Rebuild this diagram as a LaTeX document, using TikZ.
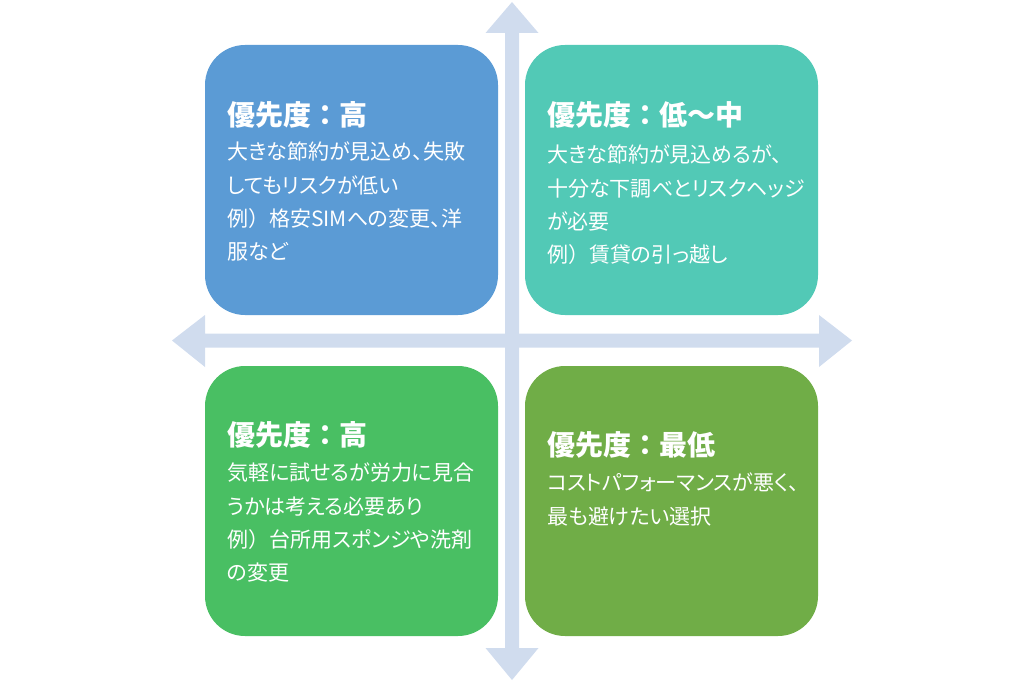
\documentclass[tikz,border=0pt]{standalone}
\usepackage{fontspec}
\setmainfont{Noto Sans CJK JP}[RawFeature=+palt]
\newfontfamily\fw{Noto Sans CJK JP}
\definecolor{axiscol}{RGB}{208,220,238}
\definecolor{cblue}{RGB}{91,155,213}
\definecolor{cteal}{RGB}{82,201,182}
\definecolor{cgreen}{RGB}{73,191,99}
\definecolor{colive}{RGB}{112,173,71}
\tikzset{
  quad/.style={rounded corners=40pt, minimum width=293pt, minimum height=270pt, inner sep=0pt, draw=none},
  ttl/.style={anchor=west, inner sep=0pt, text=white, font=\fw\fontsize{28}{30}\selectfont\bfseries},
  bodytxt/.style={anchor=north west, inner sep=0pt, text=white, align=left, font=\fontsize{21}{33.3}\selectfont},
}
\begin{document}
\begin{tikzpicture}[x=1pt,y=-1pt]
\useasboundingbox (0,0) rectangle (1024,682);
% boxes
\node[quad, fill=cblue]  (tl) at (351.5,180) {};
\node[quad, fill=cteal]  (tr) at (671.5,180) {};
\node[quad, fill=cgreen] (bl) at (351.5,501) {};
\node[quad, fill=colive] (br) at (671.5,501) {};
% axes
\fill[axiscol] (172,340.5) -- (205,315) -- (205,333.5) -- (819,333.5) -- (819,315) -- (852,340.5) -- (819,367) -- (819,347.5) -- (205,347.5) -- (205,367) -- cycle;
\fill[axiscol] (512,2) -- (538.5,33) -- (519,33) -- (519,648) -- (538.5,648) -- (512,680) -- (485.5,648) -- (505,648) -- (505,33) -- (485.5,33) -- cycle;
% texts
\node[ttl] (tlt) at (227,115) {優先度：高};
\node[bodytxt] (tlb) at (227,142) {大きな節約が見込め、失敗\\してもリスクが低い\\例{\fw ）}格安SIMへの変更、洋\\服など};
\node[ttl] (trt) at (547,115) {優先度：低～中};
\node[bodytxt] (trb) at (547,145) {大きな節約が見込めるが、\\十分な下調べとリスクヘッジ\\が必要\\例{\fw ）}賃貸の引っ越し};
\node[ttl] (blt) at (227,435) {優先度：高};
\node[bodytxt] (blb) at (227,463) {気軽に試せるが労力に見合\\うかは考える必要あり\\例{\fw ）}台所用スポンジや洗剤\\の変更};
\node[ttl] (brt) at (547,445) {優先度：最低};
\node[bodytxt] (brb) at (547,473) {コストパフォーマンスが悪く、\\最も避けたい選択};
\end{tikzpicture}
\end{document}
